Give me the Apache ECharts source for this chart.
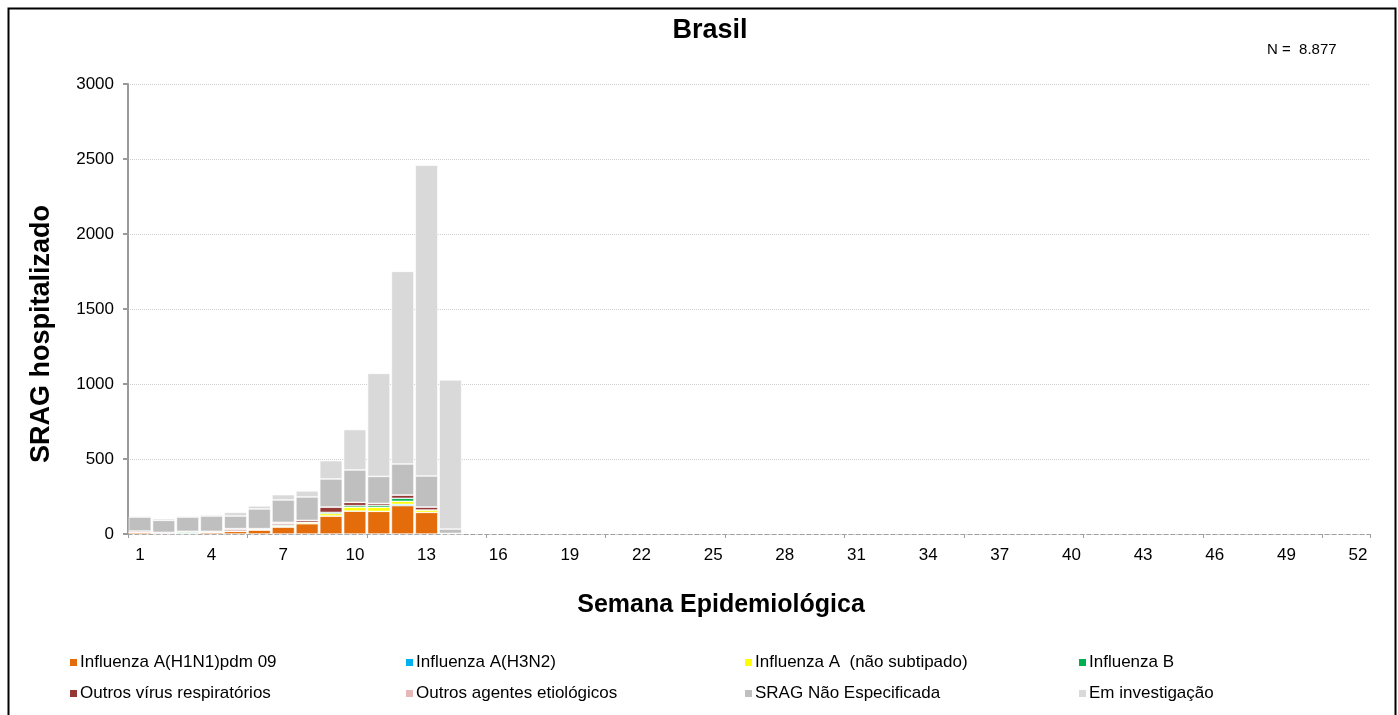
<!DOCTYPE html>
<html>
<head>
<meta charset="utf-8">
<script src="https://cdn.jsdelivr.net/npm/echarts@6/dist/echarts.min.js"></script>
<style>
  html, body { margin: 0; padding: 0; background: #fff; }
  #chart { width: 1398px; height: 715px; }
</style>
</head>
<body>
<div id="chart"></div>
<script>
// Semanas epidemiológicas 1..52
const weeks = Array.from({ length: 52 }, (_, i) => String(i + 1));

// Casos de SRAG hospitalizados por semana e por classificação (semanas 1..14)
const h1n1          = [11, 4, 4, 11, 18, 27, 47, 69, 120, 153, 151, 189, 144, 4];
const h3n2          = [0, 0, 0, 0, 0, 0, 0, 0, 0, 0, 0, 9, 0, 0];
const fluA          = [0, 0, 0, 0, 0, 4, 6, 9, 16, 25, 27, 20, 16, 0];
const fluB          = [0, 0, 7, 0, 0, 3, 7, 0, 8, 11, 13, 20, 0, 0];
const outrosVirus   = [9, 7, 7, 7, 9, 2, 9, 13, 36, 22, 13, 22, 20, 0];
const outrosAgentes = [0, 0, 0, 0, 9, 0, 9, 0, 0, 0, 0, 0, 0, 0];
const sragNE        = [93, 80, 95, 102, 84, 131, 149, 156, 187, 216, 180, 207, 207, 29];
const emInvest      = [7, 11, 7, 9, 24, 20, 35, 40, 122, 269, 687, 1284, 2071, 994];

const seriesNames = [
  'Influenza A(H1N1)pdm 09', 'Influenza A(H3N2)', 'Influenza A  (não subtipado)', 'Influenza B',
  'Outros vírus respiratórios', 'Outros agentes etiológicos', 'SRAG Não Especificada', 'Em investigação'
];
const seriesData = [h1n1, h3n2, fluA, fluB, outrosVirus, outrosAgentes, sragNE, emInvest];
const colors = ['#E46C0A', '#00B0F0', '#FFFF00', '#00B050', '#953735', '#E6B9B8', '#BFBFBF', '#D9D9D9'];

const yTicks = [0, 500, 1000, 1500, 2000, 2500, 3000];
const totalN = '8.877';

const FONT = '"Liberation Sans", Arial, sans-serif';

// Legenda em grade 4 x 2
const legendCols = [68, 404, 743, 1077];
const legendRows = [654, 685];
const legends = seriesNames.map((name, i) => ({
  data: [name],
  left: legendCols[i % 4],
  top: legendRows[Math.floor(i / 4)],
  orient: 'horizontal',
  icon: 'rect',
  itemWidth: 9,
  itemHeight: 9,
  itemGap: 4,
  padding: 0,
  selectedMode: false,
  textStyle: { fontFamily: FONT, fontSize: 17, color: '#000', padding: [0, 0, 0, -3] }
}));

const chart = echarts.init(document.getElementById('chart'), null, { renderer: 'canvas' });

chart.setOption({
  animation: false,
  color: colors,
  textStyle: { fontFamily: FONT },
  title: [
    {
      text: 'N =  ' + totalN,
      left: 1262,
      top: 37,
      textStyle: { fontFamily: FONT, fontSize: 15, fontWeight: 'normal', color: '#000' }
    }
  ],
  legend: legends,
  graphic: [
    {
      type: 'rect',
      shape: { x: 8.5, y: 8.5, width: 1387, height: 720 },
      style: { fill: 'none', stroke: '#000', lineWidth: 2 },
      silent: true,
      z: 100
    },
    {
      // título
      type: 'text',
      x: 710, y: 31,
      style: {
        text: 'Brasil', fill: '#000', font: 'bold 27px ' + FONT,
        textAlign: 'center', textVerticalAlign: 'middle'
      },
      silent: true
    },
    {
      // nome do eixo Y
      type: 'text',
      x: 42, y: 334,
      rotation: Math.PI / 2,
      style: {
        text: 'SRAG hospitalizado', fill: '#000', font: 'bold 27px ' + FONT,
        textAlign: 'center', textVerticalAlign: 'middle'
      },
      silent: true
    },
    {
      // nome do eixo X
      type: 'text',
      x: 721, y: 605,
      style: {
        text: 'Semana Epidemiológica', fill: '#000', font: 'bold 25px ' + FONT,
        textAlign: 'center', textVerticalAlign: 'middle'
      },
      silent: true
    }
  ],
  grid: { left: 128, right: 28, top: 84, bottom: 181, containLabel: false },
  xAxis: {
    type: 'category',
    data: weeks,
    boundaryGap: true,
    axisLine: { show: true, lineStyle: { color: '#A0A0A0', type: [4, 3], width: 1 } },
    axisTick: { show: true, interval: 4, length: 4, inside: false, lineStyle: { color: '#A0A0A0' } },
    axisLabel: { interval: 2, fontFamily: FONT, fontSize: 17, color: '#000', margin: 13 },
    splitLine: { show: false }
  },
  yAxis: {
    type: 'value',
    min: 0,
    max: 3000,
    interval: 500,
    axisLine: { show: true, lineStyle: { color: '#9A9A9A', width: 2 } },
    axisTick: { show: true, length: 5, lineStyle: { color: '#9A9A9A', width: 2 } },
    axisLabel: {
      fontFamily: FONT, fontSize: 17, color: '#000', margin: 14,
      formatter: v => (yTicks.indexOf(v) >= 0 ? String(v) : '')
    },
    splitLine: { show: true, lineStyle: { color: '#D0D0D0', type: [1, 1], width: 1 } }
  },
  series: seriesNames.map((name, i) => ({
    name,
    type: 'bar',
    stack: 'total',
    data: seriesData[i],
    barCategoryGap: '6%',
    itemStyle: { color: colors[i], borderColor: '#FFFFFF', borderWidth: 0.6 },
    emphasis: { disabled: true }
  }))
});
</script>
</body>
</html>
